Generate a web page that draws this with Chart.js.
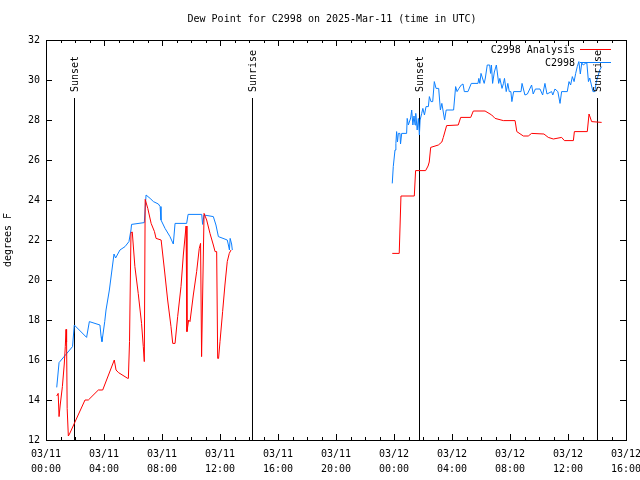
<!DOCTYPE html>
<html>
<head>
<meta charset="utf-8">
<script src="https://cdn.jsdelivr.net/npm/chart.js@4.4.1/dist/chart.umd.min.js"></script>
<style>
  html, body { margin: 0; padding: 0; background: #fff; }
  canvas { display: block; }
</style>
</head>
<body>
<canvas id="dewChart" width="640" height="480"></canvas>
<script>
// hours since 03/11 00:00 UTC, null = gap in the record
const anaHours = [
  0.74, 0.84, 0.9, 0.98, 1.13, 1.26, 1.33, 1.38, 1.42, 1.46, 1.54, 1.62, 2.69, 2.92, 3.61, 3.91,
  4.71, 4.83, 5.0, 5.64, 5.68, 5.76, 5.86, 5.95, 6.13, 6.36, 6.59, 6.71, 6.78, 6.84, 7.02, 7.25,
  7.48, 7.59, 7.94, 8.17, 8.39, 8.62, 8.74, 8.9, 9.08, 9.31, 9.47, 9.66, 9.72, 9.84, 9.93, 10.16,
  10.39, 10.57, 10.66, 10.73, 10.9, 11.08, 11.31, 11.54, 11.66, 11.77, 11.84, 11.9, 12.0, 12.18,
  12.34, 12.5, 12.64, 12.76,
  18,
  23.88, 24.36, 24.48, 25.4, 25.49, 26.18, 26.35, 26.43, 26.53, 27.06, 27.3, 27.4, 27.63, 28.43,
  28.6, 29.29, 29.47, 30.28, 30.74, 30.97, 31.54, 32.35, 32.47, 32.92, 33.26, 33.49, 34.34, 34.64,
  34.99, 35.56, 35.75, 36.37, 36.44, 37.33, 37.45, 37.63, 38.32
];
const anaValues = [
  14.2, 14.33, 13.17, 13.75, 14.67, 15.8, 16.67, 17.53, 16.9, 13.58, 12.2, 12.3, 14.0, 14.0, 14.5, 14.5,
  16.0, 15.5, 15.37, 15.08, 15.08, 16.92, 22.37, 22.4, 20.67, 19.33, 17.83, 16.67, 15.92, 24.03, 23.58, 22.83,
  22.42, 22.08, 22.0, 20.5, 19.0, 17.67, 16.83, 16.83, 18.17, 19.67, 21.25, 22.7, 17.42, 18.0, 17.92, 19.25,
  20.42, 21.58, 21.83, 16.17, 23.33, 23.0, 22.33, 21.75, 21.42, 21.42, 16.08, 16.08, 16.92, 18.42,
  19.75, 20.92, 21.33, 21.5,
  null,
  21.33, 21.33, 24.2, 24.2, 25.47, 25.47, 25.7, 25.9, 26.63, 26.75, 26.9, 27.13, 27.72, 27.75,
  28.13, 28.13, 28.45, 28.45, 28.25, 28.08, 27.97, 27.97, 27.42, 27.2, 27.2, 27.33, 27.3, 27.13,
  27.05, 27.13, 26.97, 26.97, 27.42, 27.42, 28.3, 27.92, 27.88
];

const obsHours = [
  0.74, 0.9, 1.83, 1.95, 2.8, 2.99, 3.72, 3.8, 3.86, 4.05, 4.14, 4.37, 4.69, 4.8, 5.1, 5.45,
  5.72, 5.86, 5.9, 6.78, 6.9, 7.18, 7.41, 7.75, 7.87, 7.93, 8.21, 8.55, 8.78, 8.9, 9.7, 9.8,
  10.74, 10.8, 10.9, 11.54, 11.72, 11.89, 12.5, 12.58, 12.65, 12.7, 12.8, 12.85,
  18,
  23.88, 23.95, 24.07, 24.13, 24.18, 24.24, 24.3, 24.41, 24.45, 24.53, 24.87, 24.91, 24.99, 25.15,
  25.22, 25.3, 25.38, 25.45, 25.5, 25.6, 25.68, 25.75, 25.8, 25.91, 25.99, 26.1, 26.21, 26.37,
  26.44, 26.55, 26.67, 26.78, 26.9, 27.08, 27.2, 27.3, 27.49, 27.6, 28.11, 28.25, 28.35, 28.48,
  28.64, 28.76, 28.85, 29.1, 29.33, 29.79, 29.85, 29.92, 30.0, 30.1, 30.22, 30.3, 30.43, 30.6,
  30.66, 30.72, 30.8, 30.92, 31.06, 31.22, 31.3, 31.45, 31.55, 31.62, 31.74, 31.85, 31.95, 32.06,
  32.13, 32.25, 32.76, 32.83, 33.03, 33.2, 33.49, 33.6, 33.75, 34.07, 34.25, 34.41, 34.55, 34.87,
  34.95, 35.1, 35.3, 35.45, 35.56, 35.95, 36.07, 36.18, 36.3, 36.42, 36.53, 36.64, 36.75, 36.85,
  36.95, 37.05, 37.2, 37.3, 37.41, 37.5, 37.72, 37.85, 37.95, 38.19, 38.32
];
const obsValues = [
  14.63, 15.87, 16.67, 17.75, 17.13, 17.92, 17.75, 17.17, 16.92, 17.92, 18.5, 19.5, 21.3, 21.1, 21.5, 21.67,
  21.92, 22.5, 22.78, 22.87, 24.25, 24.08, 23.92, 23.8, 23.67, 23.0, 22.58, 22.17, 21.8, 22.83, 22.83, 23.28,
  23.28, 22.78, 23.25, 23.17, 22.75, 22.17, 22.0, 21.75, 21.5, 22.08, 21.8, 21.5,
  null,
  24.83, 25.67, 26.5, 26.83, 27.42, 26.9, 27.33, 27.33, 26.8, 27.33, 27.33, 28.08, 27.75, 28.1,
  28.5, 27.75, 28.2, 27.75, 28.33, 27.5, 28.08, 27.25, 28.0, 28.33, 28.58, 28.25, 28.67, 28.67,
  29.17, 28.92, 28.92, 29.92, 29.58, 29.58, 28.5, 28.83, 28.0, 28.5, 28.5, 29.67, 29.42, 29.58,
  29.75, 29.8, 29.42, 29.42, 29.83, 29.83, 30.08, 29.83, 30.33, 30.1, 29.83, 30.1, 30.75, 30.75,
  30.33, 30.75, 29.83, 30.4, 30.75, 29.83, 30.08, 29.58, 29.83, 30.08, 29.42, 29.83, 29.42, 29.42,
  28.92, 29.42, 29.42, 29.83, 29.25, 29.3, 29.75, 29.3, 29.55, 29.55, 29.25, 29.83, 29.3, 29.42,
  29.25, 29.55, 29.42, 28.83, 29.42, 29.42, 29.92, 29.75, 30.17, 29.92, 30.33, 30.67, 30.92, 30.3,
  30.85, 30.75, 30.83, 30.85, 29.92, 30.1, 29.42, 29.42, 29.9, 30.5, 30.67
];

// sunset / sunrise markers
const sunHours = [1.966, 14.241, 25.759, 38.034];
const sunNames = ["Sunset", "Sunrise", "Sunset", "Sunrise"];
const sunLineTop = 29.1;

const xTickDays = ["03/11", "03/11", "03/11", "03/11", "03/11", "03/11", "03/12", "03/12", "03/12", "03/12", "03/12"];
const xTickTimes = ["00:00", "04:00", "08:00", "12:00", "16:00", "20:00", "00:00", "04:00", "08:00", "12:00", "16:00"];

const titleText = "Dew Point for C2998 on 2025-Mar-11 (time in UTC)";
const FONT = "DejaVu Sans Mono";
const RED = "#ff0000";
const BLUE = "#0c80ff";

const toPts = (hs, vs) => hs.map((h, i) => ({ x: h, y: vs[i] }));

const sunSets = sunHours.map(h => ({
  label: "sun",
  data: [{ x: h, y: 12 }, { x: h, y: sunLineTop }],
  borderColor: "#000",
  borderWidth: 1,
  pointRadius: 0,
  fill: false
}));

// gnuplot-ish frame, tics, title, legend, sun labels
const frame = {
  id: "frame",
  beforeDraw(chart) {
    const c = chart.ctx;
    c.save();
    c.fillStyle = "#fff";
    c.fillRect(0, 0, chart.width, chart.height);
    c.restore();
  },
  afterDraw(chart) {
    const c = chart.ctx, a = chart.chartArea;
    const xs = chart.scales.x, ys = chart.scales.y;
    c.save();
    c.strokeStyle = "#000";
    c.lineWidth = 1;
    c.strokeRect(Math.round(a.left) + 0.5, Math.round(a.top) + 0.5,
      Math.round(a.right - a.left), Math.round(a.bottom - a.top));
    c.beginPath();
    for (let h = 0; h <= 40; h++) {
      const px = Math.round(xs.getPixelForValue(h)) + 0.5;
      const len = h % 4 === 0 ? 6 : 3;
      c.moveTo(px, a.bottom); c.lineTo(px, a.bottom - len);
      c.moveTo(px, a.top); c.lineTo(px, a.top + len);
    }
    for (let v = 12; v <= 32; v += 2) {
      const py = Math.round(ys.getPixelForValue(v)) + 0.5;
      c.moveTo(a.left, py); c.lineTo(a.left + 6, py);
      c.moveTo(a.right, py); c.lineTo(a.right - 6, py);
    }
    c.stroke();

    c.fillStyle = "#000";
    c.font = "10px '" + FONT + "'";
    c.textAlign = "center";
    c.textBaseline = "middle";
    c.fillText(titleText, 332, 19);

    // sun labels, rotated
    sunHours.forEach((h, i) => {
      const px = xs.getPixelForValue(h);
      c.save();
      c.translate(px + 1, 92);
      c.rotate(-Math.PI / 2);
      c.textAlign = "left";
      c.fillText(sunNames[i], 0, 0);
      c.restore();
    });

    // legend
    c.textAlign = "right";
    c.fillText("C2998 Analysis", 575, 50);
    c.fillText("C2998", 575, 63);
    c.beginPath();
    c.strokeStyle = RED;
    c.moveTo(580, 49.5); c.lineTo(611, 49.5);
    c.stroke();
    c.beginPath();
    c.strokeStyle = BLUE;
    c.moveTo(580, 62.5); c.lineTo(611, 62.5);
    c.stroke();
    c.restore();
  }
};

new Chart(document.getElementById("dewChart").getContext("2d"), {
  type: "line",
  data: {
    datasets: [
      { label: "C2998 Analysis", data: toPts(anaHours, anaValues), borderColor: RED, borderWidth: 1, pointRadius: 0, spanGaps: false, tension: 0 },
      { label: "C2998", data: toPts(obsHours, obsValues), borderColor: BLUE, borderWidth: 1, pointRadius: 0, spanGaps: false, tension: 0 },
      ...sunSets
    ]
  },
  options: {
    responsive: false,
    animation: false,
    devicePixelRatio: 1,
    layout: { padding: { left: 0, right: 14, top: 40, bottom: 0 } },
    plugins: { legend: { display: false }, tooltip: { enabled: false } },
    scales: {
      x: {
        type: "linear", min: 0, max: 40,
        grid: { display: false, drawTicks: false },
        border: { display: false },
        ticks: {
          stepSize: 4, padding: 7, color: "#000", maxRotation: 0, autoSkip: false,
          font: { family: FONT, size: 10, lineHeight: 1.5 },
          callback: v => [xTickDays[v / 4], xTickTimes[v / 4]]
        },
        afterFit: s => { s.height = 40; s.paddingLeft = 0; s.paddingRight = 0; }
      },
      y: {
        min: 12, max: 32,
        grid: { display: false, drawTicks: false },
        border: { display: false },
        ticks: { stepSize: 2, padding: 6, color: "#000", font: { family: FONT, size: 10 } },
        title: { display: true, text: "degrees F", color: "#000", font: { family: FONT, size: 10 }, padding: 2 },
        afterFit: s => { s.width = 46; s.paddingTop = 0; s.paddingBottom = 0; }
      }
    }
  },
  plugins: [frame]
});
</script>
</body>
</html>
